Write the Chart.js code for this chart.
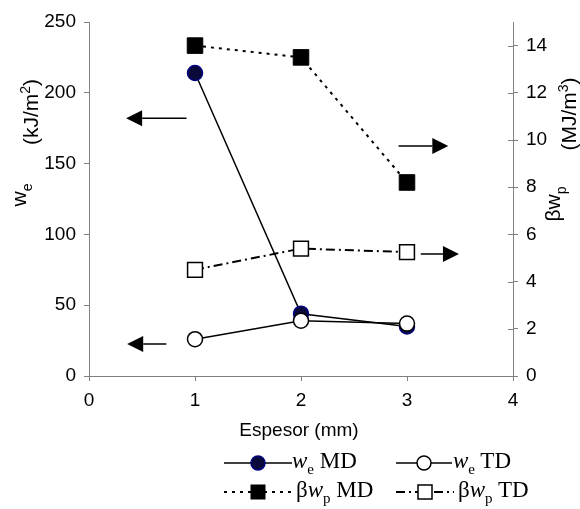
<!DOCTYPE html>
<html><head><meta charset="utf-8">
<script src="https://cdn.jsdelivr.net/npm/chart.js@4"></script>
<style>
html,body{margin:0;padding:0;background:#fff;}
#wrap{position:relative;width:580px;height:509px;overflow:hidden;background:#fff;}
#c{position:absolute;left:0;top:0;}
.rot{position:absolute;transform:translate(-50%,-50%) rotate(-90deg);white-space:nowrap;font-family:"Liberation Sans",Arial,sans-serif;font-size:21px;color:#000;line-height:1;}
.rot sub,.rot sup{font-size:14px;}
.xt{position:absolute;transform:translate(-50%,-50%);white-space:nowrap;font-family:"Liberation Sans",Arial,sans-serif;font-size:19px;color:#000;}
.leg{position:absolute;font-family:"Liberation Serif","Times New Roman",serif;font-size:23px;white-space:nowrap;color:#000;line-height:1;transform:translateY(-50%);}
.leg sub{font-size:15px;}
.sym{position:absolute;transform:translateY(-50%);}
</style></head>
<body><div id="wrap">
<canvas id="c" width="580" height="509" style="width:580px;height:509px"></canvas>
<div class="rot" style="left:21px;top:195px;">w<sub>e</sub></div>
<div class="rot" style="left:29px;top:112px;">(kJ/m<sup>2</sup>)</div>
<div class="rot" style="left:555px;top:204px;">βw<sub>p</sub></div>
<div class="rot" style="left:567px;top:114px;">(MJ/m<sup>3</sup>)</div>
<div class="xt" style="left:299px;top:430px;">Espesor (mm)</div>

<svg class="sym" style="left:224px;top:463px" width="68" height="20"><line x1="0" y1="10" x2="68" y2="10" stroke="#000" stroke-width="1.5"/><circle cx="34" cy="10" r="7" fill="#0a0a3a" stroke="#000080" stroke-width="1.5"/></svg>
<div class="leg" style="left:292px;top:463px;"><i>w</i><sub>e</sub> MD</div>
<svg class="sym" style="left:396px;top:463px" width="56" height="20"><line x1="0" y1="10" x2="56" y2="10" stroke="#000" stroke-width="1.5"/><circle cx="28" cy="10" r="7" fill="#fff" stroke="#000" stroke-width="1.5"/></svg>
<div class="leg" style="left:453px;top:463px;"><i>w</i><sub>e</sub> TD</div>

<svg class="sym" style="left:224px;top:492px" width="68" height="20"><line x1="0" y1="10" x2="68" y2="10" stroke="#000" stroke-width="2" stroke-dasharray="3,5"/><rect x="27" y="3" width="14" height="14" fill="#000" stroke="#000"/></svg>
<div class="leg" style="left:296px;top:492px;">β<i>w</i><sub>p</sub> MD</div>
<svg class="sym" style="left:396px;top:492px" width="58" height="20"><line x1="0" y1="10" x2="58" y2="10" stroke="#000" stroke-width="2" stroke-dasharray="9,4,2,4"/><rect x="22" y="3" width="14" height="14" fill="#fff" stroke="#000" stroke-width="1.5"/></svg>
<div class="leg" style="left:458px;top:492px;">β<i>w</i><sub>p</sub> TD</div>
</div>
<script>
// ---- data ----
const thickness = [1, 2, 3];            // Espesor (mm)
const weMD  = [214, 44, 35];             // w_e MD (kJ/m2), left axis
const weTD  = [26, 39, 37];              // w_e TD (kJ/m2), left axis
const bwpMD = [14.0, 13.5, 8.2];         // beta w_p MD (MJ/m3), right axis
const bwpTD = [4.5, 5.4, 5.25];          // beta w_p TD (MJ/m3), right axis
const xTickValues = [0, 1, 2, 3, 4];
const leftTickValues = [0, 50, 100, 150, 200, 250];
const rightTickValues = [0, 2, 4, 6, 8, 10, 12, 14];
// annotation arrows (data units): which axis, level, start x, tip x
const arrowAxis = ['y', 'y', 'y2', 'y2'];
const arrowLevel = [182, 22.6, 9.75, 5.17];
const arrowFrom = [0.92, 0.73, 2.92, 3.13];
const arrowTo = [0.35, 0.36, 3.39, 3.49];

const pts = v => thickness.map((x, i) => ({x: x, y: v[i]}));
const AX = '#808080';
const tickFont = {family: '"Liberation Sans", Arial, sans-serif', size: 19};

const extras = {
  id: 'extras',
  afterDatasetsDraw(chart) {
    const ctx = chart.ctx, xs = chart.scales.x;
    ctx.save();
    ctx.strokeStyle = '#000'; ctx.fillStyle = '#000'; ctx.lineWidth = 1.5;
    for (let i = 0; i < arrowLevel.length; i++) {
      const ys = chart.scales[arrowAxis[i]];
      const y = ys.getPixelForValue(arrowLevel[i]);
      const x0 = xs.getPixelForValue(arrowFrom[i]);
      const x1 = xs.getPixelForValue(arrowTo[i]);
      const dir = Math.sign(x1 - x0);
      const head = 16;
      ctx.beginPath(); ctx.moveTo(x0, y); ctx.lineTo(x1 - dir * head, y); ctx.stroke();
      ctx.beginPath(); ctx.moveTo(x1, y); ctx.lineTo(x1 - dir * head, y - 8); ctx.lineTo(x1 - dir * head, y + 8); ctx.closePath(); ctx.fill();
    }
    // inner half of crossing ticks on the right axis
    const r = chart.scales.y2;
    ctx.strokeStyle = AX; ctx.lineWidth = 1;
    rightTickValues.forEach(v => {
      const y = Math.round(r.getPixelForValue(v)) + 0.5;
      ctx.beginPath(); ctx.moveTo(r.left - 5, y); ctx.lineTo(r.left, y); ctx.stroke();
    });
    ctx.restore();
  }
};

new Chart(document.getElementById('c'), {
  type: 'line',
  data: {
    datasets: [
      {label: 'we MD', data: pts(weMD), yAxisID: 'y', order: 3,
       borderColor: '#000', borderWidth: 1.5, pointStyle: 'circle', pointRadius: 7.5,
       pointBackgroundColor: '#0a0a3a', pointBorderColor: '#000080', pointBorderWidth: 1.5},
      {label: 'we TD', data: pts(weTD), yAxisID: 'y', order: 1,
       borderColor: '#000', borderWidth: 1.5, pointStyle: 'circle', pointRadius: 7.5,
       pointBackgroundColor: '#fff', pointBorderColor: '#000', pointBorderWidth: 1.5},
      {label: 'bwp MD', data: pts(bwpMD), yAxisID: 'y2', order: 4,
       borderColor: '#000', borderWidth: 2, borderDash: [3, 5], pointStyle: 'rect', pointRadius: 11,
       pointBackgroundColor: '#000', pointBorderColor: '#000', pointBorderWidth: 1},
      {label: 'bwp TD', data: pts(bwpTD), yAxisID: 'y2', order: 2,
       borderColor: '#000', borderWidth: 2, borderDash: [9, 4, 2, 4], pointStyle: 'rect', pointRadius: 10.5,
       pointBackgroundColor: '#fff', pointBorderColor: '#000', pointBorderWidth: 1.5}
    ]
  },
  options: {
    responsive: false, animation: false, devicePixelRatio: 1,
    layout: {padding: {top: 22, left: 0, right: 0, bottom: 0}},
    plugins: {legend: {display: false}, tooltip: {enabled: false}},
    scales: {
      x: {type: 'linear', min: 0, max: 4,
          afterBuildTicks: s => { s.ticks = xTickValues.map(v => ({value: v})); },
          afterFit: s => { s.height = 133; },
          border: {color: AX, width: 1},
          grid: {drawOnChartArea: false, tickLength: 5, color: AX},
          ticks: {color: '#000', font: tickFont, padding: 8, maxRotation: 0}},
      y: {position: 'left', min: 0, max: 250,
          afterBuildTicks: s => { s.ticks = leftTickValues.map(v => ({value: v})); },
          afterFit: s => { s.width = 89; },
          border: {color: AX, width: 1},
          grid: {drawOnChartArea: false, tickLength: 5, color: AX},
          ticks: {color: '#000', font: tickFont, padding: 8}},
      y2: {position: 'right', min: 0, max: 15,
          afterBuildTicks: s => { s.ticks = rightTickValues.map(v => ({value: v})); },
          afterFit: s => { s.width = 67; },
          border: {color: AX, width: 1},
          grid: {drawOnChartArea: false, tickLength: 5, color: AX},
          ticks: {color: '#000', font: tickFont, padding: 8}}
    }
  },
  plugins: [extras]
});
</script>
</body></html>
